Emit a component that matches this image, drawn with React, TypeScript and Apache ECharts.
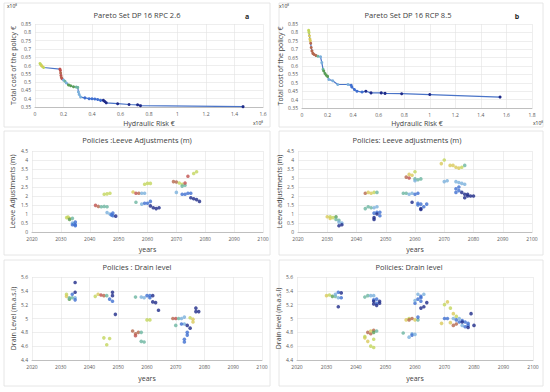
import React, { useEffect, useRef } from "react";
import * as echarts from "echarts";

const PALETTE = ["#c3d65c", "#d9c95a", "#b5684e", "#c0504d", "#5a9e55", "#6cb5a0", "#7ab0dc", "#3f6fd1", "#1e2a88"];

const titles = [
  "Pareto Set DP 16 RPC 2.6",
  "Pareto Set DP 16 RCP 8.5",
  "Policies :Leeve Adjustments (m)",
  "Policies: Leeve adjustments (m)",
  "Policies : Drain level",
  "Policies: Drain level",
];

// [hydraulic risk (x1e8), total cost (x1e8), colour index]
const paretoA = [
  [0.035, 0.612, 0], [0.04, 0.605, 0], [0.045, 0.6, 0], [0.05, 0.595, 1], [0.06, 0.588, 0],
  [0.175, 0.578, 3], [0.178, 0.57, 3], [0.18, 0.555, 2], [0.182, 0.54, 3], [0.185, 0.528, 2],
  [0.19, 0.52, 3], [0.2, 0.512, 6], [0.21, 0.505, 5], [0.22, 0.495, 6], [0.235, 0.483, 4],
  [0.25, 0.478, 4], [0.27, 0.472, 4], [0.29, 0.47, 5], [0.3, 0.468, 5], [0.305, 0.44, 6],
  [0.31, 0.425, 6], [0.32, 0.41, 6], [0.35, 0.405, 7], [0.38, 0.4, 7], [0.4, 0.4, 7],
  [0.42, 0.398, 7], [0.44, 0.395, 7], [0.46, 0.39, 7], [0.48, 0.39, 8], [0.49, 0.383, 8],
  [0.5, 0.375, 8], [0.58, 0.37, 8], [0.66, 0.365, 8], [0.72, 0.363, 8], [0.74, 0.358, 8],
  [1.46, 0.352, 8],
];

const paretoB = [
  [0.052, 0.812, 0], [0.055, 0.8, 0], [0.058, 0.78, 1], [0.062, 0.76, 1], [0.065, 0.75, 1],
  [0.068, 0.735, 2], [0.072, 0.71, 2], [0.078, 0.69, 2], [0.085, 0.675, 2], [0.095, 0.668, 2],
  [0.11, 0.662, 2], [0.125, 0.658, 5], [0.145, 0.655, 6], [0.155, 0.62, 6], [0.165, 0.58, 5],
  [0.17, 0.57, 4], [0.18, 0.555, 4], [0.19, 0.545, 4], [0.2, 0.538, 4], [0.21, 0.52, 6],
  [0.24, 0.512, 6], [0.28, 0.49, 6], [0.36, 0.49, 6], [0.385, 0.485, 7], [0.39, 0.475, 7],
  [0.41, 0.46, 7], [0.43, 0.45, 7], [0.47, 0.445, 7], [0.5, 0.45, 8], [0.54, 0.44, 8],
  [0.62, 0.44, 8], [0.65, 0.437, 8], [0.78, 0.435, 8], [1.0, 0.43, 8], [1.55, 0.415, 8],
];

// [year, leeve adjustment (m), colour index]
const leeveA = [
  [2032, 0.8, 0], [2032.5, 0.83, 0], [2033, 0.75, 1], [2033, 0.7, 4], [2034, 0.76, 5],
  [2034, 0.5, 6], [2034.5, 0.45, 6], [2035, 0.55, 7], [2035, 0.4, 7], [2035, 0.35, 7], [2034, 0.4, 7],
  [2042, 1.48, 3], [2043, 1.42, 2], [2044, 1.4, 5], [2045, 1.42, 5], [2046, 1.4, 5],
  [2045, 2.1, 0], [2046, 2.12, 0], [2047, 2.15, 0],
  [2046, 1.08, 6], [2047, 1.0, 6], [2047.5, 0.95, 7], [2048, 1.05, 7], [2048, 0.9, 7], [2049, 0.88, 8],
  [2055, 2.22, 1], [2056, 2.15, 3], [2057, 2.15, 2], [2058, 2.15, 6], [2059, 2.15, 6], [2056, 1.65, 5],
  [2059, 2.65, 0], [2060, 2.7, 0], [2061, 2.7, 0],
  [2058, 1.55, 6], [2059, 1.6, 7], [2060, 1.6, 7], [2061, 1.7, 7], [2061, 1.45, 8], [2062, 1.35, 8],
  [2063, 1.3, 8], [2064, 1.35, 8],
  [2069, 2.8, 2], [2070, 2.78, 2], [2071, 2.72, 0], [2072, 2.65, 0], [2072, 2.55, 5], [2073, 2.6, 5],
  [2073, 2.72, 3], [2074, 3.1, 3], [2076, 3.25, 0], [2077, 3.35, 0],
  [2070, 2.2, 6], [2072, 2.1, 7], [2073, 2.1, 7], [2074, 2.15, 7], [2075, 2.15, 7],
  [2075, 1.9, 8], [2076, 1.85, 8], [2077, 1.8, 8], [2078, 1.7, 8],
];

const leeveB = [
  [2030, 0.85, 1], [2031, 0.85, 0], [2031, 0.75, 1], [2032, 0.8, 0], [2033, 0.85, 4], [2033, 0.7, 5],
  [2034, 0.65, 5], [2034, 0.55, 6], [2035, 0.5, 6], [2034, 0.35, 8], [2035, 0.4, 8],
  [2043, 2.15, 2], [2044, 2.2, 1], [2045, 2.15, 1], [2046, 2.2, 0], [2047, 2.2, 5],
  [2043, 1.3, 5], [2044, 1.4, 5], [2045, 1.35, 5], [2046, 1.35, 6], [2047, 1.4, 6],
  [2046, 1.05, 7], [2047, 1.1, 7], [2048, 1.1, 7], [2048, 0.9, 7], [2046, 0.8, 8], [2046, 0.7, 8], [2047, 1.0, 8],
  [2056, 2.15, 5], [2057, 2.15, 5], [2058, 2.1, 6], [2059, 2.15, 6], [2060, 2.1, 7], [2061, 2.15, 7],
  [2057, 3.05, 2], [2058, 3.0, 3], [2058, 3.2, 1], [2059, 3.15, 1], [2060, 3.35, 0],
  [2060, 2.95, 5], [2061, 2.9, 5], [2062, 2.95, 5], [2060, 2.85, 6],
  [2059, 1.65, 8], [2061, 1.6, 7], [2061, 1.5, 7], [2062, 1.55, 7], [2062, 1.3, 8], [2063, 1.4, 7],
  [2064, 1.55, 7], [2062, 1.25, 8],
  [2069, 3.8, 1], [2070, 4.0, 0], [2072, 3.7, 1], [2073, 3.7, 1], [2074, 3.6, 1], [2075, 3.55, 1],
  [2076, 3.6, 0], [2077, 3.7, 5],
  [2070, 2.8, 6], [2071, 2.85, 6], [2074, 2.8, 6], [2075, 2.75, 6], [2076, 2.7, 6], [2077, 2.65, 6],
  [2074, 2.4, 7], [2075, 2.5, 7], [2074, 2.2, 7], [2075, 2.3, 7],
  [2076, 2.2, 8], [2077, 2.1, 8], [2077, 1.9, 8], [2078, 2.0, 8], [2079, 2.0, 8], [2080, 2.0, 8], [2078, 2.1, 8],
];

// [year, drain level (m.a.s.l), colour index]
const drainA = [
  [2032, 5.35, 0], [2032, 5.32, 1], [2033, 5.28, 4], [2033, 5.3, 5], [2034, 5.3, 5],
  [2034, 5.35, 7], [2035, 5.3, 6], [2035, 5.27, 7], [2035, 5.52, 8], [2035, 5.38, 8],
  [2042, 5.32, 0], [2043, 5.35, 1], [2044, 5.34, 3], [2045, 5.33, 2], [2046, 5.33, 5],
  [2047, 5.28, 7], [2048, 5.25, 7], [2048, 5.38, 8], [2048, 5.33, 8], [2049, 5.06, 8],
  [2045, 4.72, 0], [2047, 4.71, 0], [2046, 4.62, 0],
  [2055, 4.82, 2], [2056, 4.78, 2], [2056, 4.75, 3], [2057, 4.8, 2], [2058, 4.8, 5], [2058, 4.67, 5],
  [2059, 4.66, 5], [2060, 4.98, 0], [2061, 4.98, 0],
  [2056, 5.31, 5], [2058, 5.31, 6], [2059, 5.3, 6], [2060, 5.33, 7], [2061, 5.3, 7], [2061, 5.33, 7],
  [2062, 5.33, 8], [2062, 5.24, 8], [2063, 5.23, 8], [2064, 5.12, 8],
  [2069, 5.0, 2], [2070, 5.0, 3], [2070, 4.9, 5], [2071, 5.0, 5], [2072, 5.0, 6], [2073, 4.92, 6],
  [2073, 5.02, 6], [2072, 4.92, 7], [2073, 4.7, 7], [2073, 4.66, 7], [2074, 4.8, 7], [2074, 4.76, 7],
  [2074, 4.9, 8], [2075, 4.86, 8], [2075, 5.01, 0], [2076, 4.99, 1], [2076, 4.95, 1],
  [2077, 5.15, 8], [2077, 5.1, 8], [2078, 5.1, 8],
];

const drainB = [
  [2030, 5.33, 1], [2031, 5.34, 0], [2032, 5.32, 4], [2033, 5.32, 5], [2033, 5.35, 6], [2034, 5.3, 6],
  [2034, 5.38, 7], [2035, 5.37, 8], [2035, 5.3, 7], [2034, 5.17, 8],
  [2043, 5.31, 5], [2044, 5.33, 5], [2045, 5.33, 6], [2046, 5.33, 6], [2046, 5.27, 7], [2047, 5.28, 7],
  [2047, 5.22, 7], [2048, 5.25, 8], [2048, 5.22, 8], [2046, 5.21, 8], [2047, 5.19, 8], [2046, 5.25, 8],
  [2043, 4.72, 1], [2043, 4.74, 0], [2044, 4.67, 1], [2044, 4.8, 2], [2045, 4.78, 2], [2045, 4.82, 1],
  [2046, 4.83, 2], [2045, 4.6, 0], [2046, 4.58, 0], [2046, 4.7, 0], [2046, 4.8, 4], [2047, 4.82, 5],
  [2056, 4.79, 5], [2058, 4.73, 6], [2059, 4.78, 6], [2059, 4.76, 7], [2060, 4.77, 6],
  [2057, 4.98, 1], [2058, 5.0, 0], [2058, 4.98, 2], [2059, 5.0, 2], [2060, 4.98, 1], [2061, 4.98, 5],
  [2061, 5.02, 7], [2060, 5.22, 7], [2060, 5.26, 6], [2062, 5.3, 7], [2061, 5.35, 6], [2062, 5.32, 7],
  [2063, 5.35, 6], [2062, 5.25, 7], [2061, 5.28, 7], [2062, 5.15, 8], [2063, 5.17, 8], [2064, 5.23, 8],
  [2069, 4.93, 1], [2070, 5.2, 0], [2071, 5.24, 1], [2072, 5.15, 0], [2073, 5.07, 1], [2074, 5.03, 0],
  [2072, 4.94, 1], [2073, 4.9, 2], [2074, 4.92, 2],
  [2070, 5.0, 7], [2071, 5.0, 7], [2073, 5.0, 6], [2074, 4.98, 7], [2075, 5.0, 6], [2076, 4.97, 7],
  [2077, 4.95, 7], [2078, 4.93, 7], [2075, 4.95, 7], [2076, 4.9, 6], [2077, 4.88, 7], [2078, 4.9, 7],
  [2078, 4.87, 8], [2079, 5.07, 8], [2080, 4.9, 8], [2076, 4.95, 8],
];

const GRIDS = [
  { left: 35, top: 24, width: 228, height: 83 },
  { left: 302, top: 24, width: 230, height: 84 },
  { left: 32, top: 151, width: 231, height: 81 },
  { left: 298, top: 151, width: 234, height: 81 },
  { left: 32, top: 277, width: 230, height: 83 },
  { left: 297, top: 277, width: 236, height: 83 },
];

const TXT = "#404040";
const FONT = "Open Sans";

function fmt(v: number) {
  return String(+v.toFixed(2));
}

function valAxis(idx: number, min: number, max: number, interval: number, name: string, gap: number, isY: boolean) {
  return {
    type: "value",
    gridIndex: idx,
    min,
    max,
    interval,
    name,
    nameLocation: "middle",
    nameGap: gap,
    nameRotate: isY ? 90 : 0,
    nameTextStyle: { color: TXT, fontSize: 7, fontFamily: FONT },
    axisLine: { show: !isY, lineStyle: { color: "#bfbfbf", width: 1 } },
    axisTick: { show: false },
    axisLabel: { color: "#595959", fontSize: 5, fontFamily: FONT, margin: 4, formatter: (v: number) => fmt(v) },
    splitLine: { show: true, lineStyle: { color: "#e3e3e3", width: 0.6 } },
  };
}

const colorOf = (p: any) => PALETTE[p.data[2]];

export default function App() {
  const ref = useRef<HTMLDivElement>(null);
  useEffect(() => {
    document.body.style.margin = "0";
    const chart = echarts.init(ref.current!, null, { renderer: "svg" });
    const xAxis = [
      valAxis(0, 0, 1.6, 0.2, "Hydraulic Risk €", 13, false),
      valAxis(1, 0, 1.8, 0.2, "Hydraulic Risk €", 12, false),
      valAxis(2, 2020, 2100, 10, "years", 14, false),
      valAxis(3, 2020, 2100, 10, "years", 14, false),
      valAxis(4, 2020, 2100, 10, "years", 15, false),
      valAxis(5, 2020, 2100, 10, "years", 15, false),
    ];
    const yAxis = [
      valAxis(0, 0.35, 0.85, 0.05, "Total cost of the policy €", 17, true),
      valAxis(1, 0.35, 0.85, 0.05, "Total cost of the policy €", 18, true),
      valAxis(2, 0, 4.5, 0.5, "Leeve Adjustments (m)", 16, true),
      valAxis(3, 0, 4.5, 0.5, "Leeve adjustments (m)", 14, true),
      valAxis(4, 4.4, 5.6, 0.2, "Drain Level (m.a.s.l)", 15, true),
      valAxis(5, 4.4, 5.6, 0.2, "Drain level (m.a.s.l)", 14, true),
    ];
    const lineSeries = (idx: number, data: number[][]) => ({
      type: "line",
      xAxisIndex: idx,
      yAxisIndex: idx,
      data,
      symbol: "circle",
      symbolSize: 3,
      lineStyle: { color: "#4a74c8", width: 1.2 },
      itemStyle: { color: colorOf },
    });
    const scatterSeries = (idx: number, data: number[][]) => ({
      type: "scatter",
      xAxisIndex: idx,
      yAxisIndex: idx,
      data,
      symbol: "circle",
      symbolSize: 3.6,
      itemStyle: { color: colorOf },
    });
    const titlePos = [
      [137, 15], [408, 15], [137, 140], [407, 140], [137, 267], [409, 267],
    ];
    const frames = [
      [4, 3, 266, 124], [279, 3, 264, 124], [4, 131, 266, 124], [279, 131, 264, 124], [4, 260, 266, 126], [279, 260, 264, 126],
    ];
    const graphic: any[] = [];
    frames.forEach(([x, y, w, h]) =>
      graphic.push({ type: "rect", silent: true, z: -10, shape: { x, y, width: w, height: h }, style: { fill: "none", stroke: "#e0e0e0", lineWidth: 0.8 } })
    );
    titles.forEach((t, i) =>
      graphic.push({
        type: "text",
        x: titlePos[i][0],
        y: titlePos[i][1],
        style: { text: t, fill: TXT, fontSize: 7.5, fontFamily: FONT, align: "center", verticalAlign: "middle" },
      })
    );
    const extra = [
      ["x10⁸", 12, 6, 5, "normal"], ["x10⁸", 258, 123, 5, "normal"],
      ["x10⁸", 284, 6, 5, "normal"], ["x10⁸", 538, 123, 5, "normal"],
      ["a", 247, 16, 7, "bold"], ["b", 517, 16, 7, "bold"],
    ];
    extra.forEach(([t, x, y, s, w]) =>
      graphic.push({
        type: "text",
        x,
        y,
        style: { text: t, fill: "#262626", fontSize: s, fontWeight: w, fontFamily: FONT, align: "center", verticalAlign: "middle" },
      })
    );
    chart.setOption({
      animation: false,
      backgroundColor: "#ffffff",
      grid: GRIDS.map((g) => ({ ...g, containLabel: false })),
      xAxis,
      yAxis,
      series: [
        lineSeries(0, paretoA),
        lineSeries(1, paretoB),
        scatterSeries(2, leeveA),
        scatterSeries(3, leeveB),
        scatterSeries(4, drainA),
        scatterSeries(5, drainB),
      ],
      graphic,
    });
    return () => chart.dispose();
  }, []);
  return <div ref={ref} style={{ width: 550, height: 392 }} />;
}
